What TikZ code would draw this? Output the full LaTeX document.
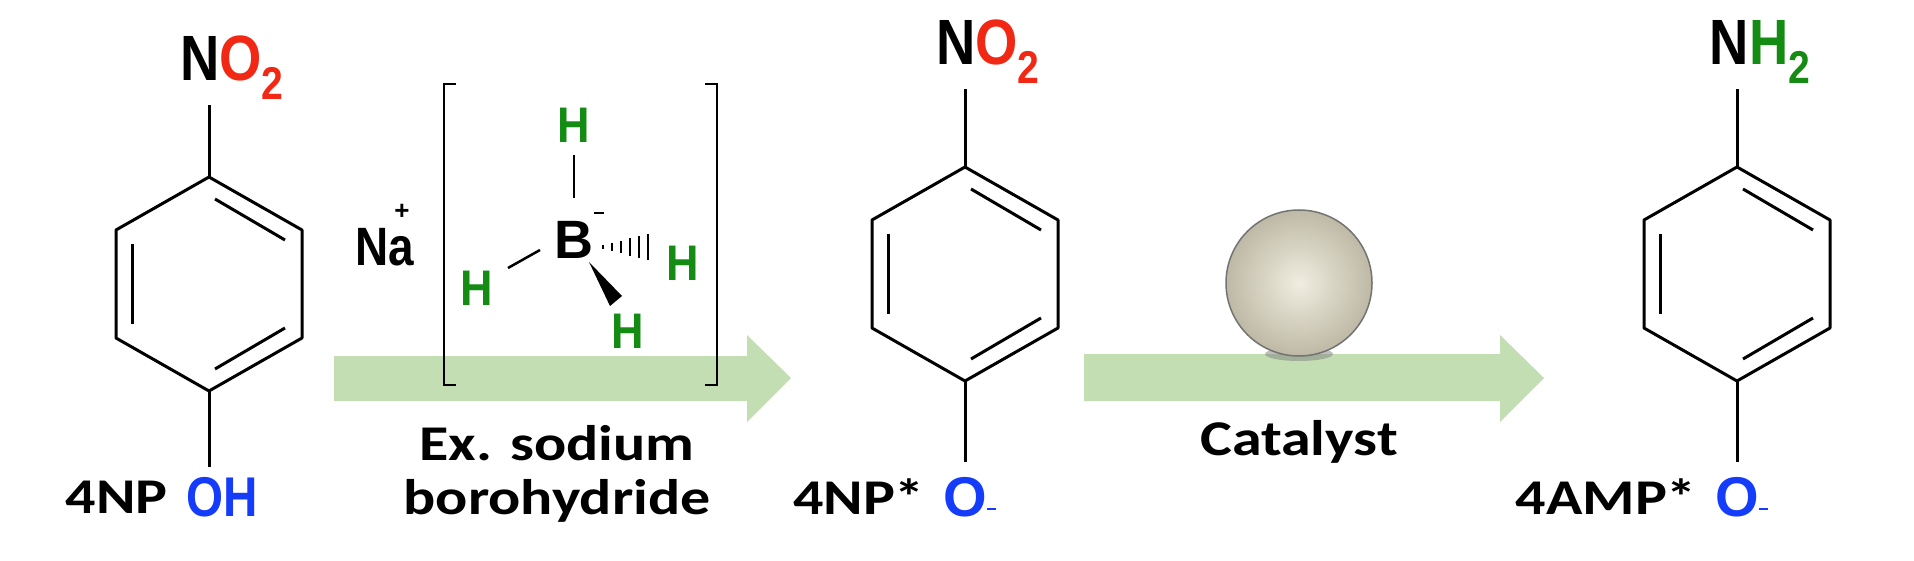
\documentclass[tikz,border=0pt]{standalone}
\usepackage{fontspec}
\setmainfont{Liberation Sans}
\newfontfamily\lab{Carlito}
\newcommand\wide[1]{\scalebox{1.2}[1]{#1}}
\begin{document}
\begin{tikzpicture}[x=1pt,y=-1pt,
  bond/.style={line width=3pt},
  chem/.style={font=\fontsize{64}{64}\selectfont\bfseries, inner sep=0pt},
  hyd/.style={font=\fontsize{50}{50}\selectfont\bfseries, text=hgreen, inner sep=0pt},
  lbl/.style={font=\lab\fontsize{50}{56}\selectfont\bfseries, inner sep=0pt, align=center},
  arr/.style={fill=agreen, draw=none}]
\definecolor{hgreen}{RGB}{20,140,20}
\definecolor{ored}{RGB}{240,40,20}
\definecolor{oblue}{RGB}{20,60,250}
\definecolor{agreen}{RGB}{196,222,180}
\useasboundingbox (0,0) rectangle (1914,561);
% arrows
\fill[arr] (334,356) -- (747,356) -- (747,335) -- (791,378) -- (747,422) -- (747,401) -- (334,401) -- cycle;
\fill[arr] (1084,354) -- (1500,354) -- (1500,335) -- (1544,378) -- (1500,422) -- (1500,401) -- (1084,401) -- cycle;
% ring macro
\newcommand\ringat[3]{%
  \begin{scope}[shift={(#1,#2)}]
  \coordinate (#3t) at (0,-107);
  \coordinate (#3ur) at (93,-54);
  \coordinate (#3lr) at (93,54);
  \coordinate (#3b) at (0,107);
  \coordinate (#3ll) at (-93,54);
  \coordinate (#3ul) at (-93,-54);
  \draw[bond,line join=round] (#3t)--(#3ur)--(#3lr)--(#3b)--(#3ll)--(#3ul)--cycle;
  \draw[bond] (6,-85)--(76,-44);
  \draw[bond] (-77,-40)--(-77,40);
  \draw[bond] (76,44)--(6,85);
  \end{scope}}
\ringat{209}{284}{a}
\ringat{965}{274}{b}
\ringat{1737}{274}{c}
% substituent bonds
\coordinate (na) at (209,105); \draw[bond] (at)--(na);
\coordinate (oa) at (209,467); \draw[bond] (ab)--(oa);
\coordinate (nb) at (965,89); \draw[bond] (bt)--(nb);
\coordinate (ob) at (965,462); \draw[bond] (bb)--(ob);
\coordinate (nc) at (1737,89); \draw[bond] (ct)--(nc);
\coordinate (oc) at (1737,462); \draw[bond] (cb)--(oc);
% top labels
\node[chem, anchor=south] (NOa) at (232,100) {\scalebox{0.85}[1]{N\textcolor{ored}{O\raisebox{-0.3em}{\fontsize{46}{46}\selectfont 2}}}};
\node[chem, anchor=south] (NOb) at (988,84) {\scalebox{0.85}[1]{N\textcolor{ored}{O\raisebox{-0.3em}{\fontsize{46}{46}\selectfont 2}}}};
\node[chem, anchor=south] (NHc) at (1760,84) {\scalebox{0.85}[1]{N\textcolor{hgreen}{H\raisebox{-0.3em}{\fontsize{46}{46}\selectfont 2}}}};
% bottom labels
\node[chem, text=oblue, anchor=west, font=\fontsize{56}{56}\selectfont\bfseries] (OH) at (186,497) {\scalebox{0.85}[1]{OH}};
\node[lbl, anchor=east] (l1) at (168,497) {\wide{4NP}};
\node[chem, text=oblue, font=\fontsize{56}{56}\selectfont\bfseries] (Ob) at (965,497) {O};
\node[anchor=west, inner sep=0pt, text=oblue] at ([yshift=-12pt]Ob.east) {\rule{9pt}{2.5pt}};
\node[lbl, anchor=east] (l2) at (925,497) {\wide{4NP*}};
\node[chem, text=oblue, font=\fontsize{56}{56}\selectfont\bfseries] (Oc) at (1737,497) {O};
\node[anchor=west, inner sep=0pt, text=oblue] at ([yshift=-12pt]Oc.east) {\rule{9pt}{2.5pt}};
\node[lbl, anchor=east] (l3) at (1697,497) {\wide{4AMP*}};
% reagent
\node[lbl] (ex) at (557,474) {\wide{Ex. sodium}\\[-2pt]\wide{borohydride}};
\node[lbl] (cat) at (1299,442) {\wide{Catalyst}};
\node[chem, font=\fontsize{54}{54}\selectfont\bfseries] (Na) at (385,247) {\scalebox{0.85}[1]{Na}};
\node[font=\fontsize{26}{26}\selectfont\bfseries, inner sep=0pt] at (402,212) {+};
\draw[line width=2.5pt] (456,84) -- (444,84) -- (444,385) -- (456,385);
\draw[line width=2.5pt] (705,84) -- (717,84) -- (717,385) -- (705,385);
\node[chem, font=\fontsize{54}{54}\selectfont\bfseries] (B) at (574,240) {B};
\draw[line width=2.5pt] (594,213) -- (604,213);
\node[hyd] (H1) at (574,125) {\scalebox{0.9}[1]{H}};
\node[hyd] (H2) at (477,288) {\scalebox{0.9}[1]{H}};
\node[hyd] (H3) at (683,263) {\scalebox{0.9}[1]{H}};
\node[hyd] (H4) at (628,331) {\scalebox{0.9}[1]{H}};
\draw[line width=2.5pt] (574,155) -- (574,198);
\draw[line width=2.5pt] (508,268) -- (540,250);
\foreach \i in {0,...,5} {\pgfmathsetmacro\xx{603+\i*9}\pgfmathsetmacro\hh{2+\i*2.2}
  \draw[line width=2.5pt] (\xx,{247-\hh}) -- (\xx,{247+\hh});}
\fill (589,262) -- (622,296) -- (610,306) -- cycle;
% catalyst sphere
\fill[black!50, opacity=0.5] (1299,354) ellipse (34 and 7);
\shade[inner color={rgb,255:red,240;green,237;blue,225}, outer color={rgb,255:red,190;green,185;blue,165}] (1299,283) circle (73);
\draw[black!55, line width=1.5pt] (1299,283) circle (73);
\end{tikzpicture}
\end{document}
